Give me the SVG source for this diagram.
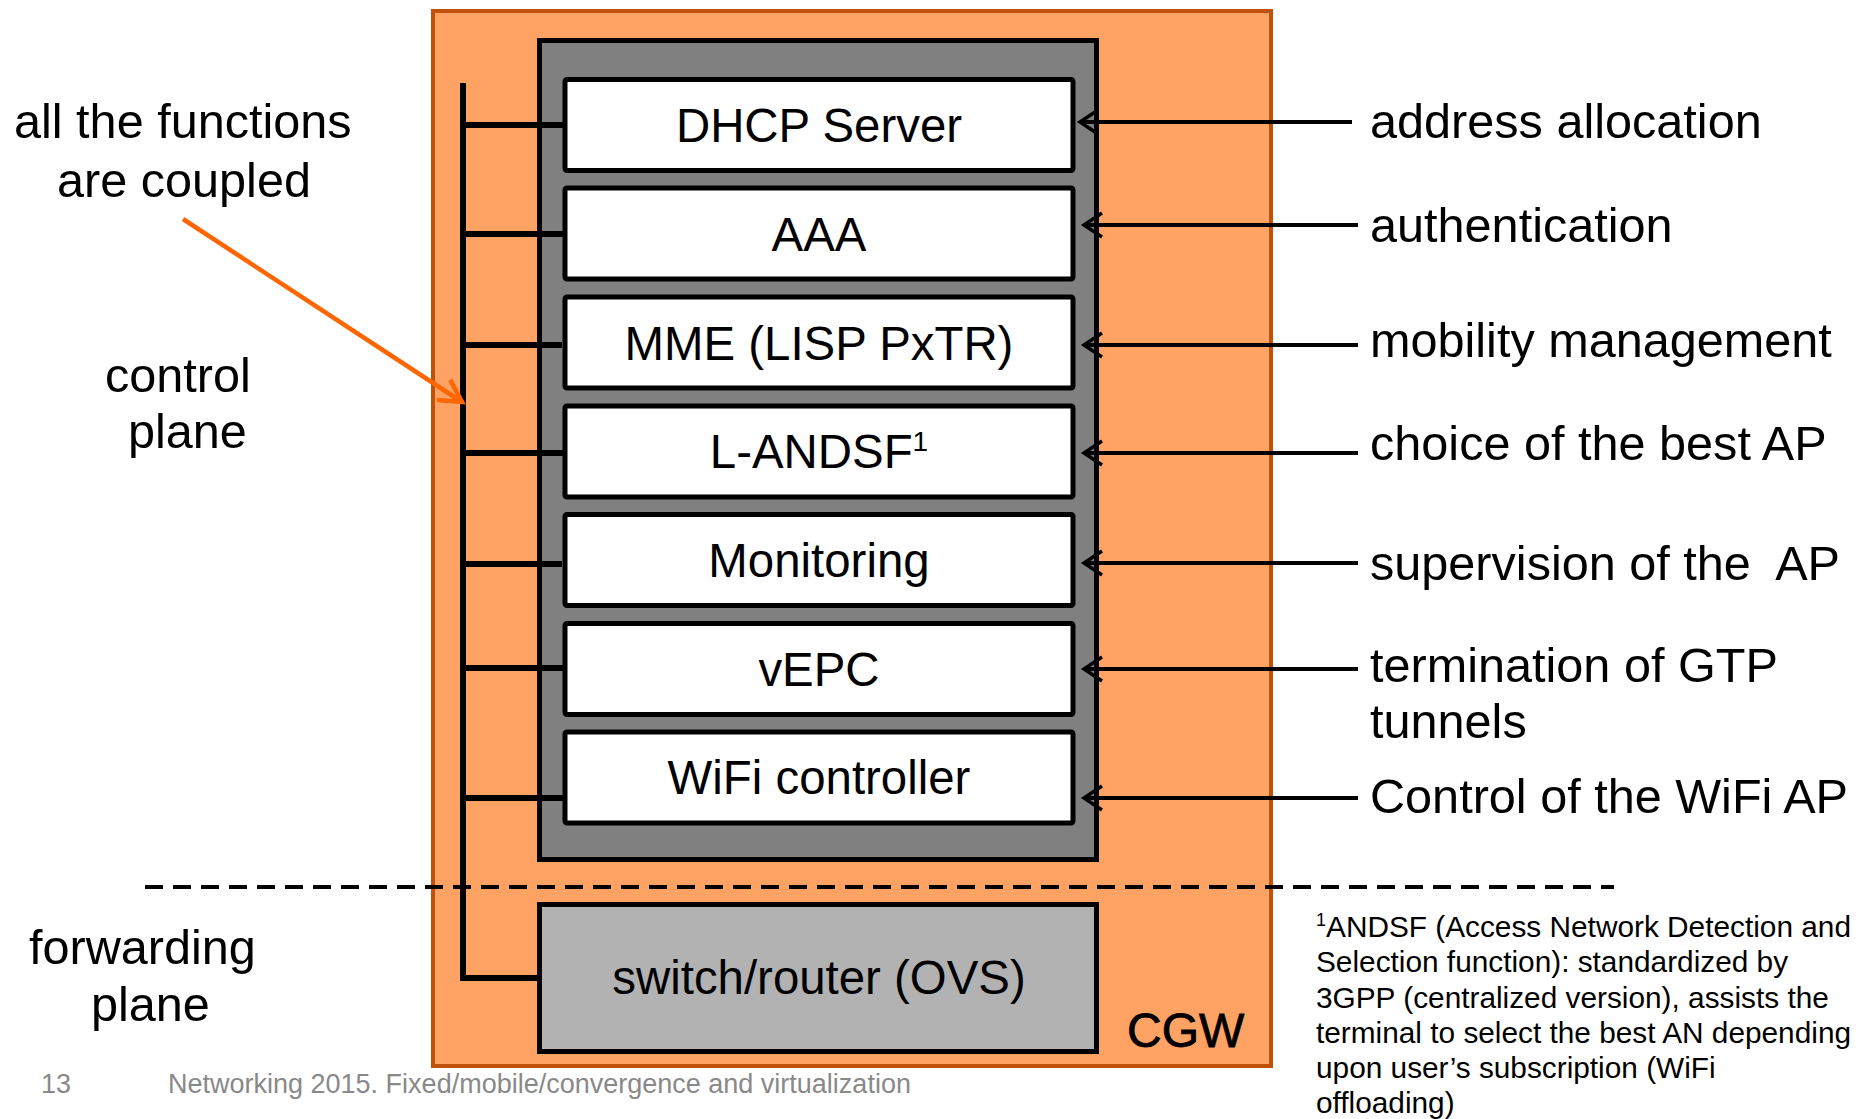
<svg xmlns="http://www.w3.org/2000/svg" width="1863" height="1119" viewBox="0 0 1863 1119">
<style>
text{font-family:"Liberation Sans",Arial,sans-serif;fill:#000}
.big{font-size:47.4px}
.mid{text-anchor:middle}
.box{fill:#fff;stroke:#000;stroke-width:5}
.lbl{font-size:48.6px}
.fn{font-size:29.8px}
.foot{font-size:27px;fill:#898989}
.arr{stroke:#000;stroke-width:4;fill:none}
</style>
<defs>
<marker id="open" markerUnits="userSpaceOnUse" markerWidth="40" markerHeight="40" refX="0" refY="0" orient="auto" overflow="visible">
<path d="M-18,-12 L0,0 L-18,12" fill="none" stroke="#000" stroke-width="3.5"/>
</marker>
<marker id="openOrange" markerUnits="userSpaceOnUse" markerWidth="40" markerHeight="40" refX="0" refY="0" orient="auto" overflow="visible">
<path d="M-22,-12 L0,0 L-22,12" fill="none" stroke="#ff6600" stroke-width="4.5"/>
</marker>
</defs>
<rect width="1863" height="1119" fill="#fff"/>
<g id="cgw">
<rect x="433" y="11" width="838" height="1055" fill="#ffa365" stroke="#c0500a" stroke-width="4"/>
<text x="1127" y="1047" style="font-size:48px;stroke:#000;stroke-width:0.8">CGW</text>
</g>
<g id="control-container">
<rect x="539.5" y="40.5" width="557" height="819" fill="#808080" stroke="#000" stroke-width="5"/>
</g>
<g id="dhcp"><rect class="box" x="565" y="79.5" width="508" height="91" rx="2"/><text class="big mid" x="819" y="142">DHCP Server</text></g>
<g id="aaa"><rect class="box" x="565" y="188" width="508" height="91" rx="2"/><text class="big mid" x="819" y="251">AAA</text></g>
<g id="mme"><rect class="box" x="565" y="297" width="508" height="91" rx="2"/><text class="big mid" x="819" y="360">MME (LISP PxTR)</text></g>
<g id="landsf"><rect class="box" x="565" y="406" width="508" height="91" rx="2"/><text class="big mid" x="819" y="468">L-ANDSF<tspan style="font-size:28px" dy="-17">1</tspan></text></g>
<g id="monitoring"><rect class="box" x="565" y="514.5" width="508" height="91" rx="2"/><text class="big mid" x="819" y="577">Monitoring</text></g>
<g id="vepc"><rect class="box" x="565" y="623.5" width="508" height="91" rx="2"/><text class="big mid" x="819" y="686">vEPC</text></g>
<g id="wifi"><rect class="box" x="565" y="732" width="508" height="91" rx="2"/><text class="big mid" x="819" y="794">WiFi controller</text></g>
<g id="switch"><rect x="539.5" y="904.5" width="557" height="147" fill="#b2b2b2" stroke="#000" stroke-width="5"/><text class="big mid" x="819" y="994">switch/router (OVS)</text></g>
<g id="connectors">
<path d="M463,83 V978 H540" fill="none" stroke="#000" stroke-width="6" stroke-linejoin="miter"/>
<path d="M463,125 H564 M463,234 H567 M463,345 H562 M463,453 H567 M463,564 H562 M463,668 H567 M463,798 H567" stroke="#000" stroke-width="6" fill="none"/>
<line class="arr" x1="1352" y1="122" x2="1080" y2="122" marker-end="url(#open)"/>
<line class="arr" x1="1358" y1="225" x2="1084" y2="225" marker-end="url(#open)"/>
<line class="arr" x1="1358" y1="345" x2="1084" y2="345" marker-end="url(#open)"/>
<line class="arr" x1="1358" y1="453" x2="1084" y2="453" marker-end="url(#open)"/>
<line class="arr" x1="1358" y1="563" x2="1084" y2="563" marker-end="url(#open)"/>
<line class="arr" x1="1358" y1="669" x2="1084" y2="669" marker-end="url(#open)"/>
<line class="arr" x1="1358" y1="798" x2="1084" y2="798" marker-end="url(#open)"/>
<line x1="183" y1="219" x2="462" y2="402" stroke="#ff6600" stroke-width="4.5" marker-end="url(#openOrange)"/>
<line x1="145" y1="887" x2="1614" y2="887" stroke="#000" stroke-width="4" stroke-dasharray="18 10"/>
</g>
<g id="left-labels">
<text class="lbl" x="14" y="138">all the functions</text>
<text class="lbl" x="57" y="197">are coupled</text>
<text class="lbl" x="105" y="392">control</text>
<text class="lbl" x="128" y="448">plane</text>
<text class="lbl" x="29" y="964">forwarding</text>
<text class="lbl" x="91" y="1021">plane</text>
</g>
<g id="right-labels">
<text class="lbl" x="1370" y="138">address allocation</text>
<text class="lbl" x="1370" y="242">authentication</text>
<text class="lbl" x="1370" y="357">mobility management</text>
<text class="lbl" x="1370" y="460">choice of the best AP</text>
<text class="lbl" x="1370" y="580" xml:space="preserve" style="white-space:pre">supervision of the  AP</text>
<text class="lbl" x="1370" y="682">termination of GTP</text>
<text class="lbl" x="1370" y="738">tunnels</text>
<text class="lbl" x="1370" y="813">Control of the WiFi AP</text>
</g>
<g id="footnote">
<text class="fn" x="1316" y="937"><tspan style="font-size:18px" dy="-11">1</tspan><tspan dy="11">ANDSF (Access Network Detection and</tspan></text>
<text class="fn" x="1316" y="972">Selection function): standardized by</text>
<text class="fn" x="1316" y="1008">3GPP (centralized version), assists the</text>
<text class="fn" x="1316" y="1043">terminal to select the best AN depending</text>
<text class="fn" x="1316" y="1078">upon user’s subscription (WiFi</text>
<text class="fn" x="1316" y="1113">offloading)</text>
</g>
<g id="footer">
<text class="foot" x="41" y="1093">13</text>
<text class="foot" x="168" y="1093">Networking 2015. Fixed/mobile/convergence and virtualization</text>
</g>
</svg>
